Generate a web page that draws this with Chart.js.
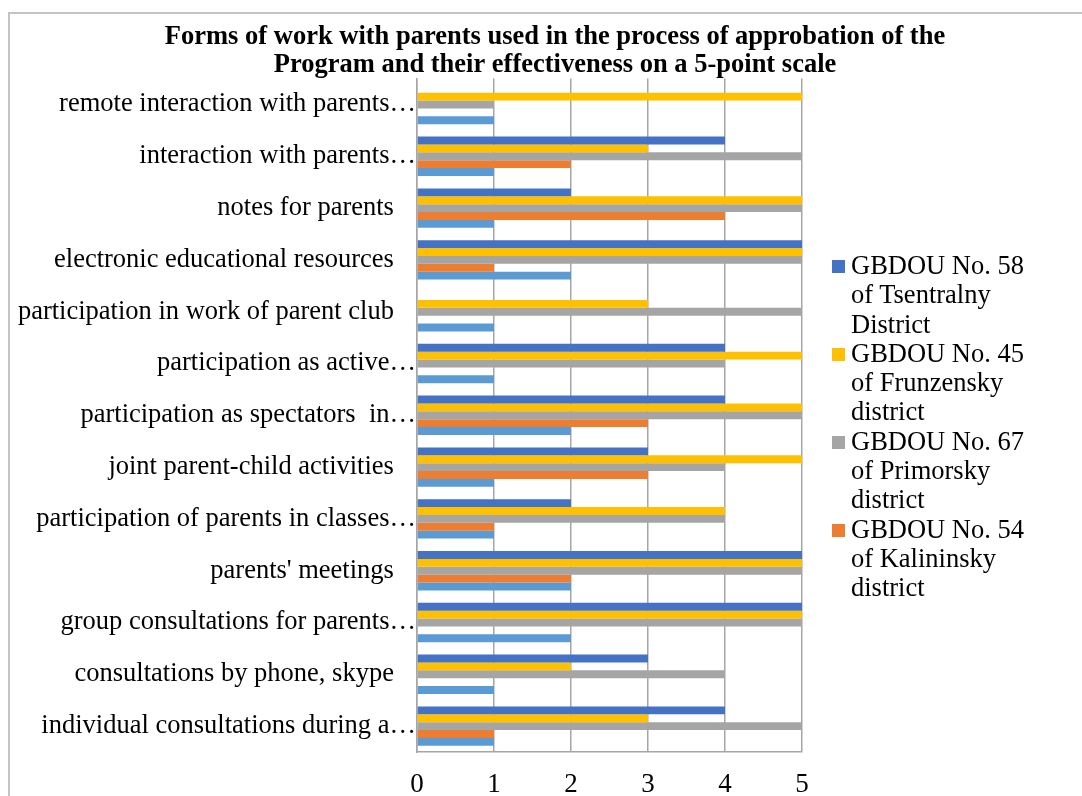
<!DOCTYPE html>
<html>
<head>
<meta charset="utf-8">
<script src="https://cdn.jsdelivr.net/npm/chart.js@4.4.1/dist/chart.umd.min.js"></script>
<style>
  html, body { margin: 0; padding: 0; background: #fff; overflow: hidden; }
  #wrap { position: relative; width: 1082px; height: 796px; overflow: hidden; }
  #frame { position: absolute; left: 8px; top: 12px; width: 1100px; height: 800px; border: 2px solid #c4c4c4; box-sizing: border-box; }
  #chart { position: absolute; left: 0; top: 0; }
  #legend { position: absolute; left: 832px; top: 251px; width: 210px; font-family: "Liberation Serif", "Times New Roman", serif; font-size: 26.5px; line-height: 29.3px; color: #000; }
  .item { position: relative; padding-left: 19px; width: 190px; }
  .box { position: absolute; left: 0; top: 9px; width: 13px; height: 13px; }
</style>
</head>
<body>
<div id="wrap">
  <div id="frame"></div>
  <canvas id="chart" width="1110" height="796"></canvas>
  <div id="legend"></div>
</div>
<script>
"use strict";

const categories = [
  "remote interaction with parents…",
  "interaction with parents…",
  "notes for parents",
  "electronic educational resources",
  "participation in work of parent club",
  "participation as active…",
  "participation as spectators  in…",
  "joint parent-child activities",
  "participation of parents in classes…",
  "parents' meetings",
  "group consultations for parents…",
  "consultations by phone, skype",
  "individual consultations during a…",
];

const gbdou58 = [0, 4, 2, 5, 0, 4, 4, 3, 2, 5, 5, 3, 4];
const gbdou45 = [5, 3, 5, 5, 3, 5, 5, 5, 4, 5, 5, 2, 3];
const gbdou67 = [1, 5, 5, 5, 5, 4, 5, 4, 4, 5, 5, 4, 5];
const gbdou54 = [0, 2, 4, 1, 0, 0, 3, 3, 1, 2, 0, 0, 1];
const unnamed = [1, 1, 1, 2, 1, 1, 2, 1, 1, 2, 2, 1, 1];

const xTicks = [0, 1, 2, 3, 4, 5];

const seriesNames = [
  "GBDOU No. 58 of Tsentralny District",
  "GBDOU No. 45 of Frunzensky district",
  "GBDOU No. 67 of Primorsky district",
  "GBDOU No. 54 of Kalininsky district",
  "",
];
const colors = ["#4472C4", "#FFC000", "#A5A5A5", "#ED7D31", "#5B9BD5"];
const allValues = [gbdou58, gbdou45, gbdou67, gbdou54, unnamed];

const fontFamily = "'Liberation Serif', 'Times New Roman', serif";
Chart.defaults.font.family = fontFamily;
Chart.defaults.color = "#000";

const datasets = allValues.map((vals, i) => ({
  label: seriesNames[i],
  data: vals,
  backgroundColor: colors[i],
  borderWidth: 0,
  barPercentage: 1,
  categoryPercentage: 0.76,
}));

const ctx = document.getElementById("chart").getContext("2d");
const chart = new Chart(ctx, {
  type: "bar",
  data: { labels: categories, datasets: datasets },
  options: {
    indexAxis: "y",
    responsive: false,
    animation: false,
    layout: { padding: 0 },
    plugins: {
      legend: { display: false },
      tooltip: { enabled: false },
      title: {
        display: true,
        text: [
          "Forms of work with parents used in the process of approbation of the",
          "Program and their effectiveness on a 5-point scale",
        ],
        font: { size: 26.5, weight: "bold", lineHeight: 1.03 },
        color: "#000",
        padding: { top: 24, bottom: 0 },
      },
    },
    scales: {
      x: {
        type: "linear",
        position: "bottom",
        min: 0,
        max: 5,
        afterBuildTicks: (s) => { s.ticks = xTicks.map((v) => ({ value: v })); },
        grid: { color: "#a6a6a6", lineWidth: 1.5, drawTicks: false },
        border: { display: true, color: "#a6a6a6", width: 1.5 },
        ticks: { font: { size: 27 }, padding: 17, color: "#000" },
        afterFit: (s) => { s.height = 44; },
      },
      y: {
        type: "category",
        position: "left",
        grid: { display: false, drawTicks: false },
        border: { display: true, color: "#a6a6a6", width: 1.5 },
        ticks: {
          font: { size: 26.5 },
          padding: 1,
          autoSkip: false,
          color: "#000",
          callback: function (v, i) {
            const t = categories[i];
            // full labels keep their trailing gap, as in the original
            return t.endsWith("…") ? t : t + "   \u200A";
          },
        },
        afterFit: (s) => { s.width = 417; },
      },
      side: {
        type: "category",
        position: "right",
        labels: categories,
        grid: { display: false, drawTicks: false },
        border: { display: false },
        ticks: { display: false },
        afterFit: (s) => { s.width = 308; },
      },
    },
  },
});

// legend as html so names can wrap like the original
const legendBox = document.getElementById("legend");
seriesNames.forEach((name, i) => {
  if (!name) return;
  const item = document.createElement("div");
  item.className = "item";
  const box = document.createElement("span");
  box.className = "box";
  box.style.background = colors[i];
  item.appendChild(box);
  item.appendChild(document.createTextNode(name));
  legendBox.appendChild(item);
});
</script>
</body>
</html>
